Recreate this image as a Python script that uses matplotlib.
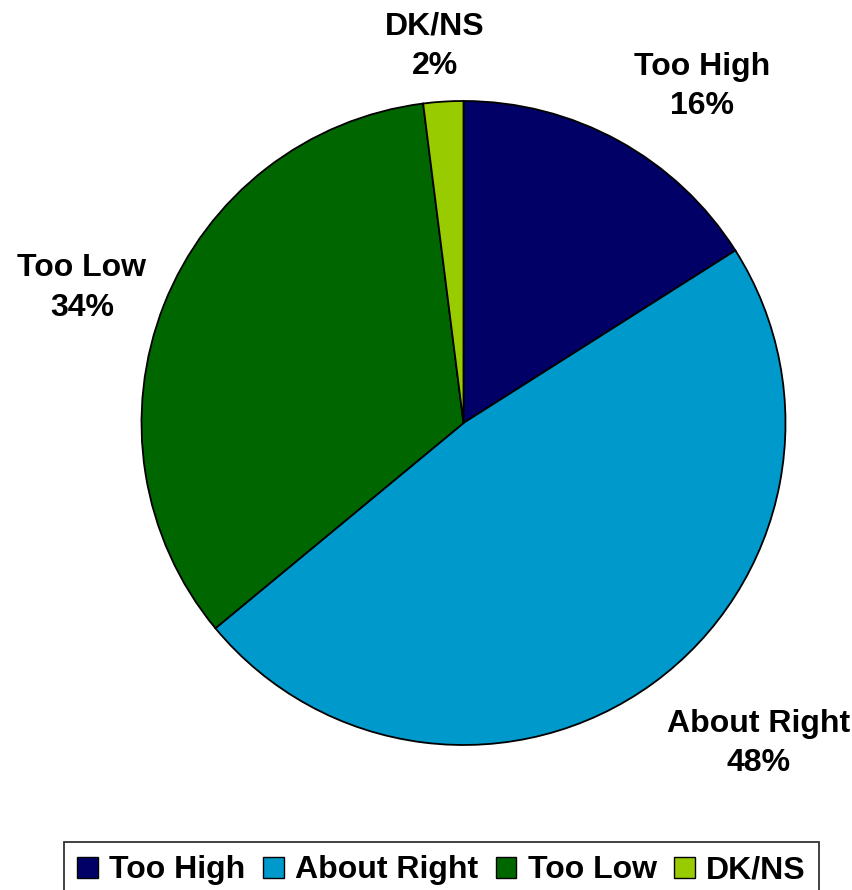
import matplotlib.pyplot as plt
from matplotlib.patches import Patch

# survey shares
categories = ['Too High', 'About Right', 'Too Low', 'DK/NS']
shares = [16, 48, 34, 2]
colors = ['#000066', '#0099CC', '#006600', '#99CC00']

# label anchor points around the pie (units of pie radius)
label_x = [0.74, 0.915, -1.185, -0.09]
label_y = [1.045, -0.995, 0.42, 1.17]

plt.rcParams['font.family'] = ['Liberation Sans', 'DejaVu Sans']
plt.rcParams['font.weight'] = 'bold'

W, H = 853, 890
fig = plt.figure(figsize=(W / 100, H / 100), dpi=100)

cx, cy, r = 463.5, 423, 322
ax = fig.add_axes([(cx - r) / W, (H - cy - r) / H, 2 * r / W, 2 * r / H])

ax.pie(shares, colors=colors, startangle=90, counterclock=False,
       wedgeprops=dict(edgecolor='black', linewidth=1.3))
ax.set_xlim(-1, 1)
ax.set_ylim(-1, 1)
ax.set_aspect('equal')
ax.axis('off')

for name, val, x, y in zip(categories, shares, label_x, label_y):
    ax.text(x, y, f'{name}\n{val}%', ha='center', va='center',
            fontsize=23, fontweight='bold', linespacing=1.42, clip_on=False)

handles = [Patch(facecolor=c, edgecolor='black', linewidth=1.0) for c in colors]
leg = fig.legend(handles, categories, loc='upper center',
                 bbox_to_anchor=(441.5 / W, (H - 842) / H), ncol=4,
                 fontsize=23, frameon=True, fancybox=False,
                 handlelength=0.65, handleheight=0.65, handletextpad=0.35,
                 columnspacing=0.55, borderpad=0.42, borderaxespad=0)
leg.get_frame().set_edgecolor('black')
leg.get_frame().set_linewidth(1.3)
for t in leg.get_texts():
    t.set_fontweight('bold')

fig.savefig('out.png', dpi=100)
